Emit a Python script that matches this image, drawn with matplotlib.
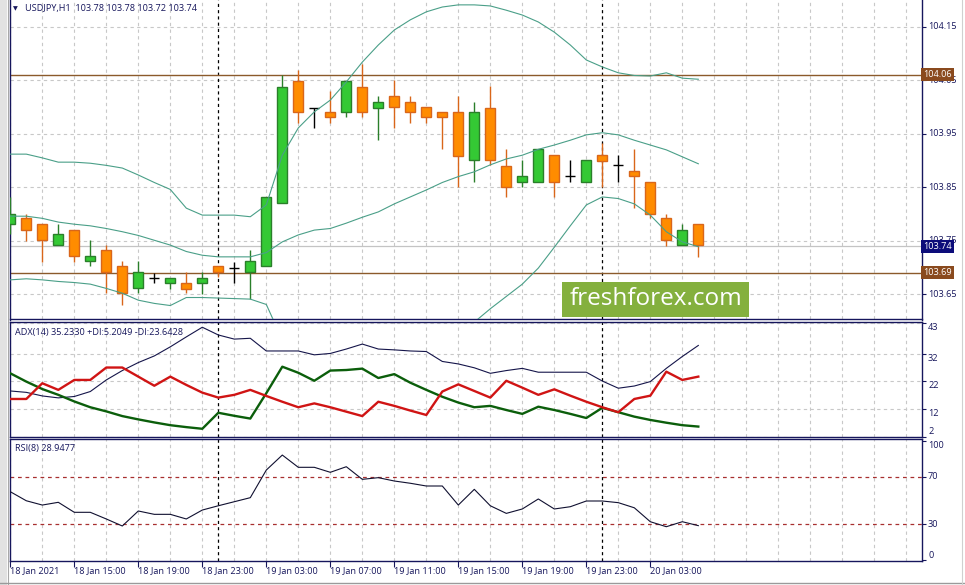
import numpy as np
import matplotlib
matplotlib.use("Agg")
import matplotlib.pyplot as plt
import matplotlib.transforms as mtransforms
from matplotlib.patches import Rectangle
from matplotlib.lines import Line2D

plt.rcParams['font.family'] = ['Open Sans', 'DejaVu Sans']

# ---------------- data ----------------
symbol_title = "USDJPY,H1  103.78 103.78 103.72 103.74"
adx_title = "ADX(14) 35.2330 +DI:5.2049 -DI:23.6428"
rsi_title = "RSI(8) 28.9477"
watermark = "freshforex.com"

opens = [103.781, 103.792, 103.781, 103.742, 103.771, 103.712, 103.732, 103.702, 103.661, 103.681,
         103.672, 103.672, 103.672, 103.702, 103.700, 103.691, 103.702, 103.820, 104.049, 103.999,
         103.990, 103.990, 104.038, 103.999, 104.021, 104.009, 104.000, 103.990, 103.990, 103.901,
         103.999, 103.890, 103.860, 103.860, 103.910, 103.871, 103.860, 103.910, 103.891, 103.880,
         103.860, 103.792, 103.742, 103.781]
highs = [103.832, 103.801, 103.781, 103.781, 103.771, 103.751, 103.742, 103.712, 103.712, 103.689,
         103.681, 103.691, 103.691, 103.702, 103.711, 103.733, 103.831, 104.060, 104.069, 103.999,
         104.030, 104.049, 104.080, 104.021, 104.051, 104.021, 104.000, 103.990, 104.021, 104.009,
         104.039, 103.921, 103.901, 103.921, 103.910, 103.901, 103.901, 103.932, 103.910, 103.921,
         103.860, 103.801, 103.781, 103.781]
lows = [103.763, 103.750, 103.711, 103.742, 103.711, 103.702, 103.652, 103.630, 103.652, 103.672,
        103.659, 103.652, 103.651, 103.682, 103.672, 103.641, 103.702, 103.820, 103.970, 103.960,
        103.970, 103.981, 103.981, 103.938, 103.960, 103.970, 103.970, 103.921, 103.850, 103.860,
        103.892, 103.831, 103.850, 103.860, 103.831, 103.860, 103.860, 103.850, 103.860, 103.811,
        103.792, 103.741, 103.742, 103.720]
closes = [103.801, 103.771, 103.751, 103.762, 103.721, 103.721, 103.691, 103.652, 103.691, 103.681,
          103.681, 103.660, 103.681, 103.691, 103.700, 103.712, 103.831, 104.038, 103.990, 103.999,
          103.981, 104.049, 103.990, 104.009, 104.000, 103.990, 103.981, 103.981, 103.909, 103.990,
          103.901, 103.850, 103.871, 103.921, 103.860, 103.871, 103.901, 103.900, 103.891, 103.871,
          103.801, 103.751, 103.771, 103.742]

bb_upper = [103.912, 103.912, 103.905, 103.897, 103.897, 103.895, 103.891, 103.886, 103.873, 103.859,
            103.846, 103.811, 103.798, 103.798, 103.798, 103.795, 103.817, 103.910, 103.961, 103.991,
            104.013, 104.047, 104.084, 104.116, 104.144, 104.163, 104.178, 104.187, 104.191, 104.191,
            104.189, 104.181, 104.172, 104.159, 104.140, 104.116, 104.088, 104.075, 104.064, 104.059,
            104.058, 104.064, 104.054, 104.052]
bb_mid = [103.796, 103.796, 103.792, 103.785, 103.781, 103.778, 103.773, 103.767, 103.760, 103.751,
          103.742, 103.730, 103.723, 103.720, 103.720, 103.720, 103.728, 103.748, 103.761, 103.770,
          103.773, 103.783, 103.794, 103.804, 103.819, 103.832, 103.845, 103.859, 103.870, 103.879,
          103.892, 103.903, 103.910, 103.921, 103.929, 103.938, 103.948, 103.952, 103.948, 103.938,
          103.929, 103.920, 103.907, 103.894]
bb_lower = [103.677, 103.679, 103.677, 103.674, 103.672, 103.669, 103.661, 103.652, 103.639, 103.633,
            103.629, 103.644, 103.644, 103.643, 103.642, 103.641, 103.631, 103.565, 103.540, 103.530,
            103.530, 103.520, 103.510, 103.500, 103.500, 103.510, 103.520, 103.540, 103.560, 103.598,
            103.623, 103.646, 103.669, 103.699, 103.738, 103.778, 103.817, 103.832, 103.829, 103.819,
            103.798, 103.767, 103.748, 103.739]

adx = [18.5, 18.0, 16.7, 16.0, 16.5, 18.3, 22.5, 25.9, 28.8, 31.2,
       34.5, 38.1, 41.6, 38.8, 37.3, 37.6, 33.0, 33.0, 33.0, 31.6,
       32.1, 33.7, 35.5, 33.7, 33.4, 33.0, 32.8, 29.2, 28.3, 26.9,
       24.9, 25.9, 26.7, 25.3, 25.3, 25.3, 25.3, 22.1, 19.5, 20.3,
       21.9, 26.7, 31.0, 35.0]
plus_di = [24.9, 21.9, 19.2, 17.1, 14.7, 12.6, 11.1, 9.4, 8.2, 7.1,
           6.1, 5.4, 4.8, 10.6, 9.5, 8.5, 17.7, 27.3, 25.1, 22.2,
           25.9, 26.1, 26.6, 23.2, 24.6, 21.5, 18.9, 16.4, 14.3, 12.6,
           13.1, 11.6, 10.2, 12.8, 11.6, 10.2, 8.7, 12.4, 10.8, 9.2,
           8.0, 7.0, 6.1, 5.6]
minus_di = [15.6, 15.6, 21.3, 18.9, 22.5, 22.5, 27.0, 27.0, 23.7, 20.4,
            23.7, 20.7, 17.9, 16.1, 17.1, 18.9, 16.7, 14.6, 12.6, 14.0,
            12.6, 11.0, 9.4, 14.6, 13.1, 11.4, 9.8, 18.3, 20.9, 18.5,
            16.1, 22.2, 19.7, 17.1, 19.1, 16.8, 14.6, 12.6, 10.8, 15.6,
            16.8, 25.5, 22.5, 23.7]
rsi = [57.4, 49.8, 46.2, 48.5, 40.1, 40.1, 34.5, 28.6, 41.2, 38.4,
       38.4, 34.5, 42.0, 45.6, 49.0, 52.4, 75.6, 88.2, 77.9, 77.9,
       73.7, 78.4, 67.8, 69.2, 66.4, 64.5, 62.2, 62.2, 46.2, 59.4,
       45.6, 39.2, 42.9, 51.3, 42.9, 44.8, 49.6, 49.6, 48.2, 43.9,
       32.2, 28.0, 32.2, 28.9]

date_labels = ["18 Jan 2021", "18 Jan 15:00", "18 Jan 19:00", "18 Jan 23:00", "19 Jan 03:00",
               "19 Jan 07:00", "19 Jan 11:00", "19 Jan 15:00", "19 Jan 19:00", "19 Jan 23:00",
               "20 Jan 03:00"]
date_label_bars = [0, 4, 8, 12, 16, 20, 24, 28, 32, 36, 40]

price_ticks = [104.15, 104.05, 103.95, 103.85, 103.75, 103.65]
adx_ticks = [43, 32, 22, 12, 2]
rsi_ticks = [100, 70, 30, 0]
rsi_levels = [70, 30]
level_lines = [104.06, 103.69]
bid_price = 103.74
cursor_bars = [13, 37]

# ---------------- styling ----------------
W, H = 965, 585
NAVY = '#16165c'
GRID = '#c8c8c8'
BB = '#4a9f88'
BULL_FILL, BULL_EDGE = '#34c934', '#2a7f2a'
BEAR_FILL, BEAR_EDGE = '#ff8c00', '#d9661a'
LEVEL = '#8b5a2b'
FS = 6.6

fig = plt.figure(figsize=(W / 100, H / 100), dpi=100, facecolor='white')


def px_box(l, t, r, b):
    return [l / W, 1 - b / H, (r - l) / W, (b - t) / H]


ax_main = fig.add_axes(px_box(9.5, 0, 922, 319.5))
ax_adx = fig.add_axes(px_box(9.5, 322, 922, 436.5))
ax_rsi = fig.add_axes(px_box(9.5, 438.5, 922, 561))

for ax in (ax_main, ax_adx, ax_rsi):
    ax.set_xlim(-0.05, 56.98)
    ax.set_facecolor('white')
    for s in ax.spines.values():
        s.set_color(NAVY)
        s.set_linewidth(1.0)
    ax.yaxis.tick_right()
    ax.tick_params(axis='y', which='major', direction='out', length=3, width=0.8,
                   colors=NAVY, labelright=False, labelleft=False)
    ax.xaxis.remove_overlapping_locs = False
    ax.set_xticks(np.arange(0, 57, 2), minor=True)
    ax.tick_params(axis='x', which='minor', length=0)
    ax.tick_params(axis='x', which='major', length=0, labelbottom=False)
    ax.grid(True, which='minor', axis='x', color=GRID, lw=0.8, ls=(0, (3, 3)))
    ax.set_axisbelow(True)
    for b in cursor_bars:
        ax.axvline(b, color='black', lw=0.9, ls=(0, (2.5, 2.5)), zorder=2.2)

ax_main.spines['top'].set_visible(False)


def right_labels(ax, vals, vas):
    tr = mtransforms.blended_transform_factory(ax.transAxes, ax.transData)
    for v, va in zip(vals, vas):
        txt = str(v) if isinstance(v, int) else f"{v:.2f}"
        ax.text(1 + 6.0 / 912.5, v, txt, transform=tr, ha='left', va=va,
                fontsize=FS, color=NAVY, clip_on=False)


# ---------------- main price panel ----------------
x = np.arange(len(opens))
o = np.array(opens); h = np.array(highs); l = np.array(lows); c = np.array(closes)
ax_main.set_ylim(103.6029, 104.2001)
ax_main.set_yticks(price_ticks)
ax_main.grid(True, which='major', axis='y', color=GRID, lw=0.8, ls=(0, (3, 3)))
right_labels(ax_main, price_ticks, ['center'] * len(price_ticks))

ax_main.axhline(bid_price, color='#c4c4c4', lw=0.9, zorder=1.8)
for v in level_lines:
    ax_main.axhline(v, color=LEVEL, lw=1.0, zorder=2.4)

doji = np.abs(c - o) < 0.002
bull = (c > o) & ~doji
bear = (c < o) & ~doji
ax_main.vlines(x[bull], l[bull], h[bull], color=BULL_EDGE, lw=1.0, zorder=3)
ax_main.vlines(x[bear], l[bear], h[bear], color=BEAR_EDGE, lw=1.0, zorder=3)
ax_main.vlines(x[doji], l[doji], h[doji], color='black', lw=1.0, zorder=3)
ax_main.bar(x[bull], (c - o)[bull], bottom=o[bull], width=0.62, color=BULL_FILL,
            edgecolor=BULL_EDGE, lw=1.0, zorder=3.5)
ax_main.bar(x[bear], (o - c)[bear], bottom=c[bear], width=0.62, color=BEAR_FILL,
            edgecolor=BEAR_EDGE, lw=1.0, zorder=3.5)
ax_main.hlines(c[doji], x[doji] - 0.31, x[doji] + 0.31, color='black', lw=1.0, zorder=3.5)

for band in (bb_upper, bb_mid, bb_lower):
    ax_main.plot(x, band, color=BB, lw=0.8, zorder=4)

tr_main = mtransforms.blended_transform_factory(ax_main.transAxes, ax_main.transData)
ax_main.text(1 + 1.5 / 912.5, level_lines[0], f"{level_lines[0]:.2f}", transform=tr_main,
             ha='left', va='center', fontsize=FS, color='white', clip_on=False, zorder=6,
             bbox=dict(boxstyle='square,pad=0.22', fc='#8a4a1e', ec='none'))
ax_main.text(1 + 1.5 / 912.5, level_lines[1], f"{level_lines[1]:.2f}", transform=tr_main,
             ha='left', va='center', fontsize=FS, color='white', clip_on=False, zorder=6,
             bbox=dict(boxstyle='square,pad=0.22', fc='#8a4a1e', ec='none'))
ax_main.text(1 + 1.5 / 912.5, bid_price, f"{bid_price:.2f}", transform=tr_main,
             ha='left', va='center', fontsize=FS, color='white', clip_on=False, zorder=6,
             bbox=dict(boxstyle='square,pad=0.22', fc='#0c0c7a', ec='none'))

# ---------------- ADX panel ----------------
ax_adx.set_ylim(2.0, 43.5)
ax_adx.set_yticks(adx_ticks)
ax_adx.grid(True, which='major', axis='y', color=GRID, lw=0.8, ls=(0, (3, 3)))
right_labels(ax_adx, adx_ticks, ['top', 'top', 'top', 'top', 'bottom'])
ax_adx.plot(x, adx, color='#15154a', lw=0.8, zorder=4)
ax_adx.plot(x, plus_di, color='#0b5e0b', lw=1.7, zorder=4)
ax_adx.plot(x, minus_di, color='#d01414', lw=1.7, zorder=4)

# ---------------- RSI panel ----------------
ax_rsi.set_ylim(-0.8, 102.1)
ax_rsi.set_yticks(rsi_ticks)
right_labels(ax_rsi, rsi_ticks, ['top', 'center', 'center', 'bottom'])
for lv in rsi_levels:
    ax_rsi.axhline(lv, color='#a83030', lw=0.9, ls=(0, (3, 3)), zorder=2)
ax_rsi.plot(x, rsi, color='#101030', lw=0.8, zorder=4)

ax_rsi.set_xticks(date_label_bars)
ax_rsi.tick_params(axis='x', which='major', direction='out', length=4, width=0.8, color=NAVY)
tr_dates = mtransforms.blended_transform_factory(ax_rsi.transData, fig.transFigure)
for b, s in zip(date_label_bars, date_labels):
    ax_rsi.text(b, 1 - 570.5 / H, s, transform=tr_dates, ha='left', va='center',
                fontsize=FS, color=NAVY, clip_on=False)

# ---------------- panel captions ----------------
fig.text(13 / W, 1 - 8.5 / H, "\u25BC", fontsize=4.5, color=NAVY, va='center', ha='left',
         family=['DejaVu Sans'])
fig.text(25 / W, 1 - 8.5 / H, symbol_title, fontsize=FS, color=NAVY, va='center', ha='left')
fig.text(15 / W, 1 - 332 / H, adx_title, fontsize=FS, color=NAVY, va='center', ha='left')
fig.text(15 / W, 1 - 448 / H, rsi_title, fontsize=FS, color=NAVY, va='center', ha='left')

# ---------------- window chrome & watermark ----------------
fig.add_artist(Rectangle((0, 0), 7 / W, 1, transform=fig.transFigure, fc='#e2e2e2', ec='none'))
fig.add_artist(Line2D([7.5 / W, 7.5 / W], [0, 1], transform=fig.transFigure, color='#a8a8a8', lw=0.8))
fig.add_artist(Line2D([0, 1], [1 - 583 / H, 1 - 583 / H], transform=fig.transFigure, color='#9a9a9a', lw=1.0))
fig.add_artist(Line2D([962 / W, 962 / W], [0, 1], transform=fig.transFigure, color='#d0d0d0', lw=0.8))

fig.add_artist(Rectangle((562 / W, 1 - 317 / H), (749 - 562) / W, (317 - 282) / H,
                         transform=fig.transFigure, fc='#84b03e', ec='none', zorder=5))
fig.text(655.5 / W, 1 - 299 / H, watermark, fontsize=17.5, color='white', ha='center',
         va='center', zorder=6)

fig.savefig("out.png", dpi=100, facecolor='white')
